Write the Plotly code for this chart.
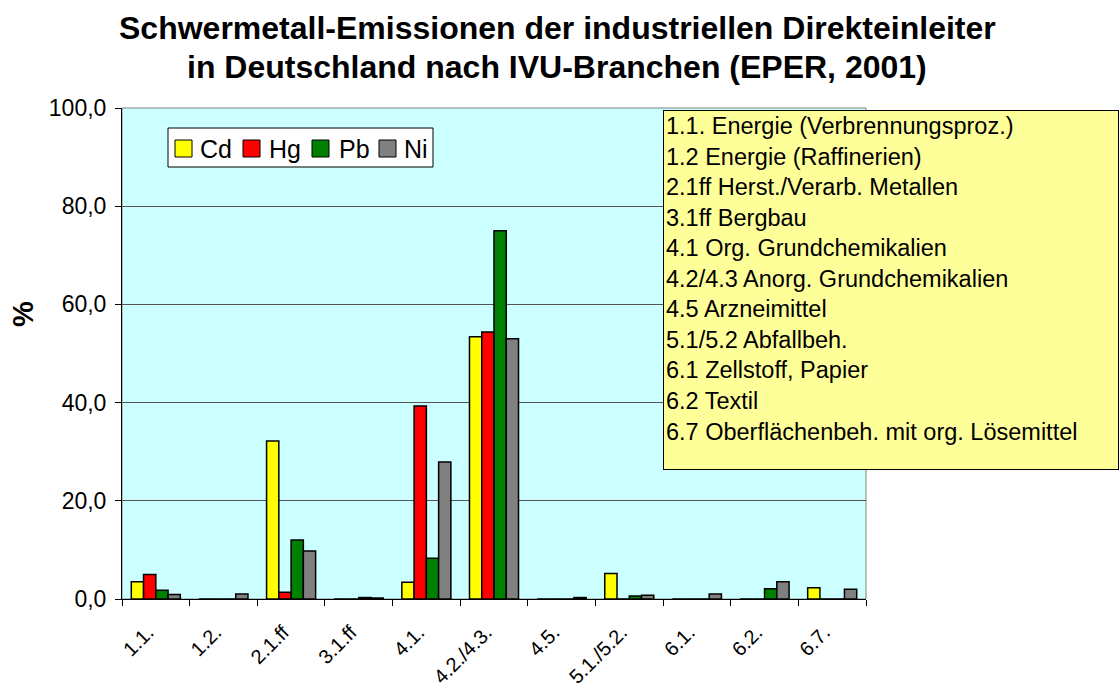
import plotly.graph_objects as go

categories = ["1.1.", "1.2.", "2.1.ff", "3.1.ff", "4.1.", "4.2./4.3.", "4.5.", "5.1./5.2.", "6.1.", "6.2.", "6.7."]
cd = [3.5, 0.0, 32.2, 0.0, 3.4, 53.4, 0.0, 5.2, 0.0, 0.0, 2.3]
hg = [5.0, 0.0, 1.4, 0.0, 39.3, 54.4, 0.0, 0.0, 0.0, 0.0, 0.0]
pb = [1.8, 0.0, 12.0, 0.3, 8.3, 75.0, 0.0, 0.6, 0.0, 2.1, 0.0]
ni = [0.9, 1.0, 9.8, 0.2, 27.9, 53.0, 0.3, 0.75, 1.0, 3.5, 2.0]
series_names = ["Cd", "Hg", "Pb", "Ni"]
series_colors = ["#FFFF00", "#FF0000", "#008000", "#808080"]
branch_lines = [
    "1.1. Energie (Verbrennungsproz.)",
    "1.2 Energie (Raffinerien)",
    "2.1ff Herst./Verarb. Metallen",
    "3.1ff Bergbau",
    "4.1 Org. Grundchemikalien",
    "4.2/4.3 Anorg. Grundchemikalien",
    "4.5 Arzneimittel",
    "5.1/5.2 Abfallbeh.",
    "6.1 Zellstoff, Papier",
    "6.2 Textil",
    "6.7 Oberflächenbeh. mit org. Lösemittel",
]
title_lines = [
    "Schwermetall-Emissionen der industriellen Direkteinleiter",
    "in Deutschland nach IVU-Branchen (EPER, 2001)",
]
y_ticks = [0, 20, 40, 60, 80, 100]

FONT = "Liberation Sans, Arial, sans-serif"

# plot-area geometry in pixels
L, R, T, B = 122, 866, 108, 599
W, H = R - L, B - T


def px(x):
    return (x - L) / W


def py(y):
    return (B - y) / H


fig = go.Figure()
for name, vals, col in zip(series_names, [cd, hg, pb, ni], series_colors):
    fig.add_trace(go.Bar(
        x=categories, y=vals, name=name,
        marker=dict(color=col, line=dict(color="black", width=1.5)),
    ))

fig.update_layout(
    width=1119, height=690,
    margin=dict(l=L, r=1119 - R, t=T, b=690 - B, autoexpand=False),
    paper_bgcolor="white",
    plot_bgcolor="#CCFFFF",
    separators=",.",
    barmode="group",
    bargap=0.275,
    bargroupgap=0,
    font=dict(family=FONT, color="black"),
    showlegend=False,
    xaxis=dict(
        type="category",
        automargin=False,
        tickmode="array",
        tickvals=categories,
        ticktext=[c + "\u00a0\u00a0" for c in categories],
        tickangle=-45,
        tickfont=dict(size=20, family=FONT),
        showline=True, linecolor="black", linewidth=1,
        ticks="outside", ticklen=6, tickcolor="black",
        tickson="boundaries",
        ticklabelstandoff=5,
        showgrid=False,
    ),
    yaxis=dict(
        automargin=False,
        range=[0, 100],
        tickvals=y_ticks,
        tickformat=".1f",
        tickfont=dict(size=23, family=FONT),
        showline=True, linecolor="black", linewidth=1,
        ticks="outside", ticklen=6, tickcolor="black",
        ticklabelstandoff=4,
        showgrid=True, gridcolor="#555555", gridwidth=1,
        zeroline=False,
    ),
)

# plot area border
fig.add_shape(type="rect", xref="paper", yref="paper", x0=0, x1=1, y0=0, y1=1,
              line=dict(color="#808080", width=1), fillcolor="rgba(0,0,0,0)", layer="below")

# title (two lines)
for txt, yc in zip(title_lines, [28, 67]):
    fig.add_annotation(xref="paper", yref="paper", x=px(557), y=py(yc),
                       xanchor="center", yanchor="middle", showarrow=False,
                       text="<b>" + txt + "</b>", font=dict(size=32, family=FONT))

# y-axis title
fig.add_annotation(xref="paper", yref="paper", x=px(23), y=py(314),
                   xanchor="center", yanchor="middle", showarrow=False,
                   text="<b>%</b>", textangle=-90, font=dict(size=29, family=FONT))

# legend box
fig.add_shape(type="rect", xref="paper", yref="paper",
              x0=px(168), x1=px(433), y0=py(167), y1=py(128),
              line=dict(color="black", width=1), fillcolor="white")
sw_x = [175, 243, 312, 379]
tx_x = [198, 267, 337, 402]
for name, col, sx, tx in zip(series_names, series_colors, sw_x, tx_x):
    fig.add_shape(type="rect", xref="paper", yref="paper",
                  x0=px(sx), x1=px(sx + 17), y0=py(157), y1=py(140),
                  line=dict(color="black", width=1), fillcolor=col)
    fig.add_annotation(xref="paper", yref="paper", x=px(tx), y=py(149),
                       xanchor="left", yanchor="middle", showarrow=False,
                       text=name, font=dict(size=25, family=FONT))

# branch description box
fig.add_annotation(
    xref="paper", yref="paper",
    x=px(663), y=py(110),
    xanchor="left", yanchor="top",
    text="<br>".join(branch_lines),
    align="left", valign="top",
    showarrow=False,
    bgcolor="#FFFF99", bordercolor="black", borderwidth=1, borderpad=2,
    width=450, height=354,
    font=dict(size=23.5, family=FONT, color="black"),
)

fig.write_html("out.html", config={"displayModeBar": False},
               post_script="document.body.style.margin='0';")
